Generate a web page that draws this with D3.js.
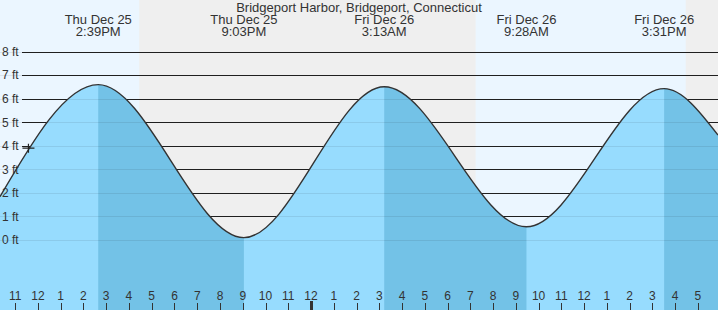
<!DOCTYPE html>
<html>
<head>
<meta charset="utf-8">
<script src="https://cdn.jsdelivr.net/npm/d3@7"></script>
<style>
  body { margin: 0; background: #fff; }
  svg { display: block; font-family: "Liberation Sans", Arial, sans-serif; }
  text { fill: #333; }
</style>
</head>
<body>
<svg id="tide-chart"></svg>
<script>
var parseTime = d3.timeParse("%Y-%m-%d %H:%M");

/* tide curve: chart edges plus highs and lows (ft) */
var tideTimes = ["2025-12-25 10:20", "2025-12-25 14:39", "2025-12-25 21:03", "2025-12-26 03:13",
                 "2025-12-26 09:28", "2025-12-26 15:31", "2025-12-26 17:53"];
var tideHeights = [1.84, 6.60, 0.10, 6.51, 0.56, 6.43, 4.46];

/* labelled extremes */
var extremeTimes = ["2025-12-25 14:39", "2025-12-25 21:03", "2025-12-26 03:13", "2025-12-26 09:28", "2025-12-26 15:31"];
var extremeDays = ["Thu Dec 25", "Thu Dec 25", "Fri Dec 26", "Fri Dec 26", "Fri Dec 26"];
var extremeLabels = ["2:39PM", "9:03PM", "3:13AM", "9:28AM", "3:31PM"];

/* falling tide intervals (dark water) */
var fallStart = ["2025-12-25 14:39", "2025-12-26 03:13", "2025-12-26 15:31"];
var fallEnd = ["2025-12-25 21:03", "2025-12-26 09:28", "2025-12-26 17:53"];

/* night intervals (grey background) */
var nightStart = ["2025-12-25 16:27", "2025-12-26 16:28"];
var nightEnd = ["2025-12-26 07:14", "2025-12-26 17:53"];

var feetTicks = [0, 1, 2, 3, 4, 5, 6, 7, 8];
var nowTime = "2025-12-25 11:35", nowHeight = 3.9;

var width = 718, height = 310;

var svg = d3.select("#tide-chart")
    .attr("width", width)
    .attr("height", height);

var x = d3.scaleTime()
    .domain([parseTime(tideTimes[0]), parseTime(tideTimes[tideTimes.length - 1])])
    .range([0, width]);
var y = d3.scaleLinear().domain([0, 8]).range([240, 51.7]);

var tide = tideTimes.map(function(t, i) { return {date: parseTime(t), ft: tideHeights[i]}; });

/* day / night background */
svg.append("rect").attr("width", width).attr("height", height).attr("fill", "#ebf6ff");
svg.selectAll(".night")
  .data(nightStart)
  .enter().append("rect")
    .attr("class", "night")
    .attr("x", function(d) { return x(parseTime(d)); })
    .attr("width", function(d, i) { return x(parseTime(nightEnd[i])) - x(parseTime(d)); })
    .attr("height", height)
    .attr("fill", "#efefef");

/* grid above water */
svg.selectAll(".grid")
  .data(feetTicks)
  .enter().append("line")
    .attr("class", "grid")
    .attr("x1", 22).attr("x2", width)
    .attr("y1", function(d) { return Math.round(y(d)) + 0.5; })
    .attr("y2", function(d) { return Math.round(y(d)) + 0.5; })
    .attr("stroke", "#222");

/* water */
var area = d3.area()
    .x(function(d) { return x(d.date); })
    .y0(height)
    .y1(function(d) { return y(d.ft); })
    .curve(d3.curveMonotoneX);

svg.append("path").datum(tide).attr("d", area).attr("fill", "#97dcfe");

var defs = svg.append("defs");
var clip = defs.append("clipPath").attr("id", "falling");
clip.selectAll("rect")
  .data(fallStart)
  .enter().append("rect")
    .attr("x", function(d) { return x(parseTime(d)); })
    .attr("width", function(d, i) { return x(parseTime(fallEnd[i])) - x(parseTime(d)); })
    .attr("height", height);

svg.append("path").datum(tide).attr("d", area)
    .attr("fill", "#73c2e7")
    .attr("clip-path", "url(#falling)");

/* faint grid through water */
svg.selectAll(".grid-water")
  .data(feetTicks)
  .enter().append("line")
    .attr("class", "grid-water")
    .attr("x1", 0).attr("x2", width)
    .attr("y1", function(d) { return Math.round(y(d)) + 0.5; })
    .attr("y2", function(d) { return Math.round(y(d)) + 0.5; })
    .attr("stroke", "#000")
    .attr("stroke-opacity", 0.08);

/* tide line */
var line = d3.line()
    .x(function(d) { return x(d.date); })
    .y(function(d) { return y(d.ft); })
    .curve(d3.curveMonotoneX);

svg.append("path").datum(tide).attr("d", line)
    .attr("fill", "none")
    .attr("stroke", "#333")
    .attr("stroke-width", 1.4);

/* y labels */
svg.selectAll(".ylab")
  .data(feetTicks)
  .enter().append("text")
    .attr("class", "ylab")
    .attr("x", 2)
    .attr("y", function(d) { return y(d); })
    .attr("dy", "0.35em")
    .style("font-size", "12px")
    .text(function(d) { return d + " ft"; });

/* hour axis */
var hours = d3.timeHour.range(d3.timeHour.ceil(x.domain()[0]), x.domain()[1]);
svg.selectAll(".tick")
  .data(hours)
  .enter().append("line")
    .attr("class", "tick")
    .attr("x1", function(d) { return Math.round(x(d)) + 0.5; })
    .attr("x2", function(d) { return Math.round(x(d)) + 0.5; })
    .attr("y1", function(d) { return d.getHours() === 0 ? 301 : 303; })
    .attr("y2", height)
    .attr("stroke", "#333")
    .attr("stroke-width", function(d) { return d.getHours() === 0 ? 3 : 1; });

svg.selectAll(".xlab")
  .data(hours)
  .enter().append("text")
    .attr("class", "xlab")
    .attr("x", function(d) { return x(d); })
    .attr("y", 300)
    .attr("text-anchor", "middle")
    .style("font-size", "12px")
    .text(d3.timeFormat("%-I"));

/* now marker */
var nx = x(parseTime(nowTime)), ny = y(nowHeight);
svg.append("path")
    .attr("d", "M" + (nx - 6) + "," + ny + "H" + (nx + 6) + "M" + nx + "," + (ny - 4.5) + "V" + (ny + 4.5))
    .attr("stroke", "#222")
    .attr("stroke-width", 1.2);

/* title and extreme labels */
svg.append("text")
    .attr("x", width / 2).attr("y", 12)
    .attr("text-anchor", "middle")
    .style("font-size", "13px")
    .text("Bridgeport Harbor, Bridgeport, Connecticut");

var labels = svg.selectAll(".ext")
  .data(extremeTimes)
  .enter().append("g")
    .attr("class", "ext")
    .attr("transform", function(d) { return "translate(" + x(parseTime(d)) + ",0)"; });
labels.append("text")
    .attr("y", 24).attr("text-anchor", "middle").style("font-size", "13px")
    .text(function(d, i) { return extremeDays[i]; });
labels.append("text")
    .attr("y", 36).attr("text-anchor", "middle").style("font-size", "13px")
    .text(function(d, i) { return extremeLabels[i]; });
</script>
</body>
</html>
